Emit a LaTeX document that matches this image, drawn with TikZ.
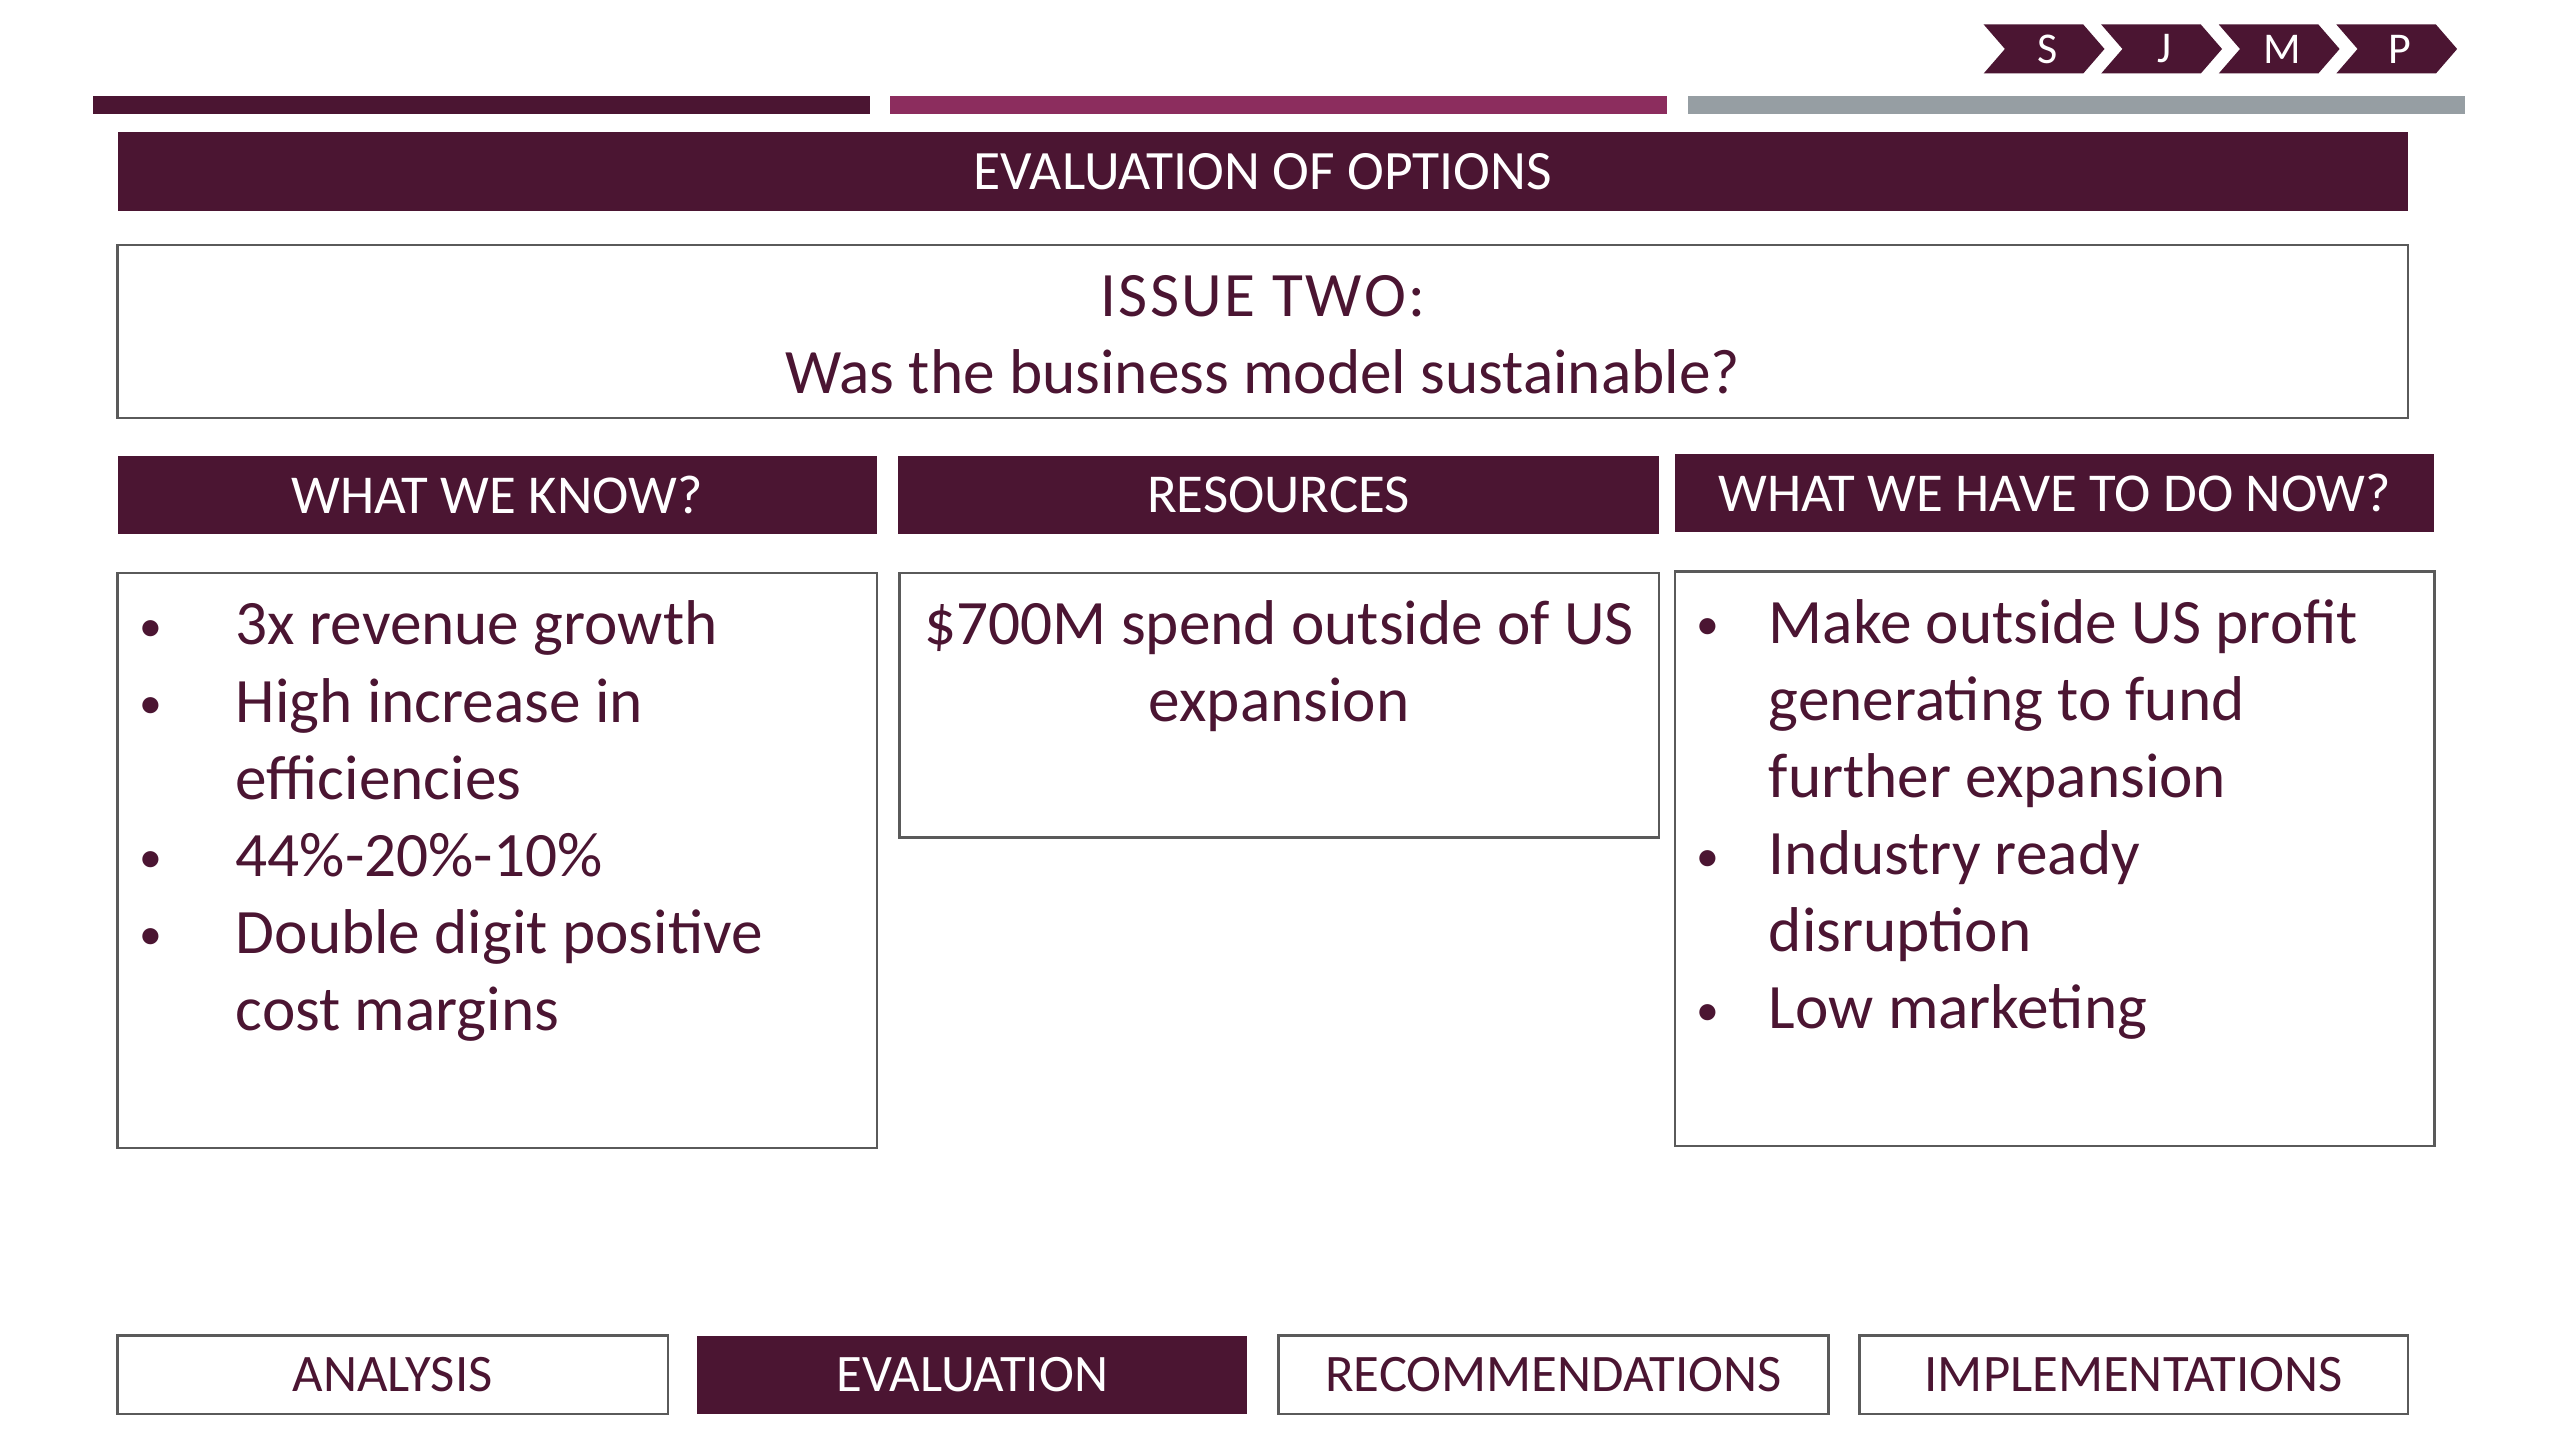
\documentclass[tikz,border=0pt]{standalone}
\usepackage{fontspec}
\setmainfont{Carlito}
\usetikzlibrary{fit}
\definecolor{maroon}{HTML}{4B1532}
\definecolor{rosebar}{HTML}{8C2D5E}
\definecolor{greybar}{HTML}{969EA3}
\definecolor{boxgrey}{HTML}{5A5A5A}
\newcommand{\dotb}{\raisebox{1pt}{\fontsize{13}{13}\selectfont\textbullet}}
\newcommand{\bl}{\leavevmode\llap{\dotb\hspace{21pt}}}
\newcommand{\br}{\leavevmode\llap{\dotb\hspace{14pt}}}
\tikzset{
  darkbox/.style={fill=maroon, draw=none, inner sep=0pt},
  whitebox/.style={draw=boxgrey, line width=0.7pt, fill=white, inner sep=0pt},
  hdrtext/.style={text=white, font=\fontsize{15.6}{18}\selectfont, inner sep=0pt},
  tabdark/.style={text=white, font=\fontsize{15}{18}\selectfont, inner sep=0pt},
  tablight/.style={text=maroon, font=\fontsize{15}{18}\selectfont, inner sep=0pt},
  bodyfont/.style={font=\fontsize{18}{21.94}\selectfont, text=maroon, inner sep=0pt},
  chev/.style={fill=maroon, draw=none},
  chevtext/.style={text=white, font=\fontsize{12.5}{14}\selectfont, inner sep=0pt}
}
\begin{document}
\begin{tikzpicture}[x=0.016327cm, y=-0.016327cm]
\useasboundingbox[fill=white] (0,0) rectangle (1568,882);

% top bars
\fill[maroon]  (57,59) rectangle (533,70);
\fill[rosebar] (545,59) rectangle (1021,70);
\fill[greybar] (1034,59) rectangle (1510,70);

% chevrons
\foreach \x/\l/\n in {1215/S/cs, 1287/J/cj, 1359/M/cm, 1431/P/cp}{
  \fill[chev] (\x,15) -- (\x+61,15) -- (\x+74,30) -- (\x+61,45) -- (\x,45) -- (\x+13,30) -- cycle;
  \node[chevtext] (\n) at (\x+39,30) {\l};
}

% banner
\node[darkbox, fit={(72,81) (1475,129)}] (banner) {};
\node[hdrtext, font=\fontsize{15.8}{18}\selectfont] (bannert) at (banner.center) {EVALUATION OF OPTIONS};

% issue box
\node[whitebox, fit={(72,150) (1475,256)}] (issue) {};
\node[bodyfont, anchor=base] (t1) at (773.5,194) {\addfontfeature{LetterSpace=4}ISSUE TWO:};
\node[bodyfont, anchor=base] (t2) at (773.5,241) {Was the business model sustainable?};

% column headers
\node[darkbox, fit={(72,279) (537,327)}] (hk) {};
\node[hdrtext] (hkt) at (hk.center) {WHAT WE KNOW?};
\node[darkbox, fit={(550,279) (1016,327)}] (hr) {};
\node[hdrtext] (hrt) at (hr.center) {RESOURCES};
\node[darkbox, fit={(1026,278) (1491,326)}] (hn) {};
\node[hdrtext] (hnt) at (hn.center) {WHAT WE HAVE TO DO NOW?};

% body boxes
\node[whitebox, fit={(72,351) (537,703)}] (bk) {};
\node[whitebox, fit={(551,351) (1016,513)}] (brs) {};
\node[whitebox, fit={(1026,350) (1491,702)}] (bn) {};

\node[bodyfont, anchor=base west] (kt) at (144,395) {\parbox[t]{360pt}{\raggedright
\bl 3x revenue growth\\
\bl High increase in\\
efficiencies\\
\bl 44\%-20\%-10\%\\
\bl Double digit positive\\
cost margins}};

\node[bodyfont, anchor=base] (m1) at (783.5,395) {\$700M spend outside of US};
\node[bodyfont, anchor=base] (m2) at (783.5,442) {expansion};

\node[bodyfont, anchor=base west] (nt) at (1083,394) {\parbox[t]{360pt}{\raggedright
\br Make outside US profit\\
generating to fund\\
further expansion\\
\br Industry ready\\
disruption\\
\br Low marketing}};

% bottom tabs
\node[whitebox, fit={(72,818) (409,866)}] (ta) {};
\node[tablight] (tat) at (ta.center) {ANALYSIS};
\node[darkbox, fit={(427,818) (764,866)}] (te) {};
\node[tabdark] (tet) at (te.center) {EVALUATION};
\node[whitebox, fit={(783,818) (1120,866)}] (tr) {};
\node[tablight] (trt) at (tr.center) {RECOMMENDATIONS};
\node[whitebox, fit={(1139,818) (1475,866)}] (ti) {};
\node[tablight] (tit) at (ti.center) {IMPLEMENTATIONS};
\end{tikzpicture}
\end{document}
